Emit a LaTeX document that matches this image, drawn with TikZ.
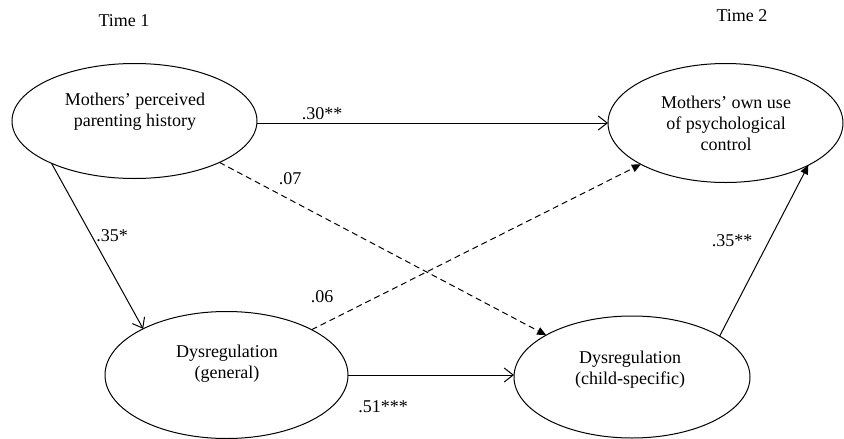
\documentclass[tikz,border=0pt]{standalone}
\usepackage{fontspec}
\setmainfont{Liberation Serif}
\usetikzlibrary{shapes.geometric,arrows.meta}
\begin{document}
\begin{tikzpicture}[x=1pt,y=-1pt,
  every node/.style={font=\fontsize{18}{21}\selectfont},
  latent/.style={draw,ellipse,line width=1pt,inner sep=0pt,outer sep=0pt},
  txt/.style={align=center,inner sep=0pt},
  lab/.style={inner sep=0pt},
  openarr/.style={line width=1pt,-{Straight Barb[length=9pt,width=14pt,line width=1pt]}},
  fillarr/.style={line width=1pt,-{Triangle[length=9pt,width=8pt]}},
  dasharr/.style={fillarr,dash pattern=on 6pt off 4pt}]
\useasboundingbox (0,0) rectangle (844,439);
% ellipses
\node[latent,minimum width=245pt,minimum height=115pt] (A) at (134.5,121) {};
\node[latent,minimum width=235pt,minimum height=119pt] (B) at (725.5,123) {};
\node[latent,minimum width=243pt,minimum height=127pt] (C) at (226.5,375) {};
\node[latent,minimum width=236pt,minimum height=122pt] (D) at (632,377) {};
% texts
\node[txt] (At) at (135,111.5) {Mothers’ perceived\\parenting history};
\node[txt] (Bt) at (726,123) {Mothers’ own use\\of psychological\\control};
\node[txt] (Ct) at (227,364) {Dysregulation\\(general)};
\node[txt] (Dt) at (630,370) {Dysregulation\\(child-specific)};
\node[lab] (T1) at (124,21) {Time 1};
\node[lab] (T2) at (742,16) {Time 2};
% connectors
\draw[openarr] (A.east |- B.west) -- (B.west);
\draw[openarr] (A.207.8) -- (C.151.5);
\draw[openarr] (C.east) -- (C.east -| D.west);
\draw[dasharr] (A.-26.2) -- (D.154.5);
\draw[dasharr] (C.28.3) -- (B.206.2);
\draw[fillarr] (D.25.8) -- (B.-27.5);
% labels
\node[lab] (l30) at (322,114) {.30**};
\node[lab] (l07) at (290,179) {.07};
\node[lab] (l35a) at (112,236) {.35*};
\node[lab] (l06) at (322,297) {.06};
\node[lab] (l35b) at (732,241) {.35**};
\node[lab] (l51) at (383,407) {.51***};
\end{tikzpicture}
\end{document}
